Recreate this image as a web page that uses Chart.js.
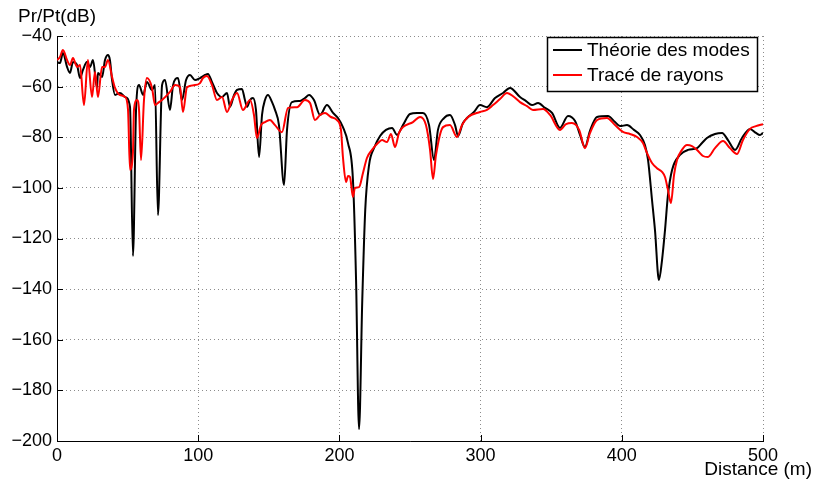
<!DOCTYPE html>
<html>
<head>
<meta charset="utf-8">
<script src="https://cdn.jsdelivr.net/npm/chart.js@4/dist/chart.umd.min.js"></script>
<style>
  html, body { margin: 0; padding: 0; background: #fff; }
  canvas { display: block; }
</style>
</head>
<body>
<canvas id="chart" width="819" height="485"></canvas>
<script>
// Théorie des modes (black)
const theoryX = [0, 2.1, 4.2, 7.1, 9.2, 11.3, 14.2, 16.3, 18.4, 21.2, 23.4, 25.5, 28.3, 29, 31.9, 34, 36.1, 37.5, 39,
    41.1, 44.6, 48.2, 51.7, 53.8, 56, 58.1, 61, 63.7, 67.3, 69.4, 71.5, 74.4, 76.5, 80, 82.2, 85.7, 88.5, 91.4, 94.2,
    97.7, 101.3, 104.8, 106.9, 109.8, 113.3, 116.9, 120.4, 122.5, 125.4, 127.5, 131, 133.1, 134.6, 136.7, 138.8, 140.9,
    143.1, 145.2, 147.3, 149.4, 152.3, 154.4, 157.2, 160.8, 162.9, 166.4, 172.1, 175.6, 178.5, 182, 186.3, 191.2, 195.5,
    199, 202.5, 206.1, 209.6, 211.8, 213.9, 216.2, 218.3, 221, 224.5, 228.8, 233, 237.3, 240.8, 245, 250, 255, 259.2,
    263.5, 267, 269.8, 274.1, 278.3, 281.9, 284, 287.5, 290.4, 295.3, 299.6, 304.5, 310.2, 315.9, 320.8, 327.9, 332.2,
    336.4, 340.7, 345.6, 350.6, 356.2, 361.9, 366.9, 370.4, 373.9, 377.5, 382.4, 390.2, 395.2, 398.7, 403.7, 408.6,
    412.9, 416.4, 418.6, 421.4, 423.5, 426.3, 428.5, 430.6, 432.7, 435.6, 441.2, 446.9, 453.3, 456.8, 460.3, 466, 471,
    475.2, 480.2, 485.1, 490.8, 495, 497.9, 500];
const theoryY = [-50.3, -50.7, -46.7, -52.2, -54.6, -50.3, -51.5, -56.6, -53.4, -50.3, -52.2, -49.5, -60.5, -54.6, -56.2,
    -49.5, -47.5, -49.5, -57.4, -63.3, -62.5, -64.1, -68, -126.9, -69, -59.4, -63.3, -58.2, -61.3, -59.4, -110.7, -59.4,
    -57.4, -69.2, -59.4, -56.6, -65.3, -57.4, -55.4, -57.4, -56.6, -55.4, -55, -58.2, -62.5, -64.1, -62.5, -68, -63.3,
    -61.3, -60.9, -65.3, -68, -65.3, -64.5, -69.2, -87.8, -71.2, -65.3, -63.3, -66.1, -69.2, -75.2, -98.9, -77.1, -66.1,
    -65.7, -64.5, -63.3, -65.3, -71.2, -67.3, -70.4, -72.4, -76, -82.3, -96.9, -136.4, -195.3, -144.3, -108.7, -91, -84.3,
    -79.5, -77.1, -76.3, -79.1, -75.2, -70.8, -70.4, -70.4, -75.2, -89, -77.1, -72.4, -71.2, -75.2, -79.5, -74.4, -72.4,
    -70, -67.3, -68.1, -64.5, -62.5, -60.5, -64.1, -65.7, -67.3, -66.5, -68.4, -70.4, -76.3, -71.6, -73.6, -79.1, -83.9,
    -77.4, -72, -71.6, -74, -75.6, -75.2, -77.1, -79.1, -83.1, -89, -104.8, -116.7, -136.4, -128.5, -116.7, -102.8, -92.9,
    -87, -85, -84.3, -82.3, -80.3, -78.7, -78.3, -81.1, -85, -80.3, -76.7, -78.3, -79.1, -78.3];

// Tracé de rayons (red)
const rayX = [0, 2.1, 4.2, 7.1, 9.2, 11.3, 14.2, 16.3, 19.1, 21.9, 24.8, 26.9, 29, 31.9, 34, 36.1, 39, 41.1, 44.6, 48.2,
    50.3, 51.7, 53.8, 54.5, 56.7, 58.1, 59.5, 61.6, 63.7, 67.3, 69.4, 72.2, 74.4, 80, 83.6, 87.1, 89.2, 92.1, 97.7, 101.3,
    103.4, 106.2, 109.8, 113.3, 116.9, 120.4, 123.9, 127.5, 131.7, 136.7, 139.5, 141.6, 144.5, 147.3, 150.8, 154.4,
    159.3, 163.6, 170, 175.6, 179.2, 182.7, 186.3, 189.8, 194, 198.3, 201.1, 202.5, 204.7, 206.1, 207.5, 209.6, 211,
    213.9, 216.7, 219.5, 223.1, 227.3, 230.2, 233.7, 236.5, 239.4, 242.2, 245, 252.1, 257.1, 261.3, 264.2, 266.3,
    268.4, 273.4, 278.3, 283.3, 286.8, 291.1, 299.6, 304.5, 308.8, 313.7, 318.7, 323.7, 327.9, 332.9, 337.1, 344.2,
    349.2, 356.2, 360.5, 364.7, 369.8, 373.9, 377.5, 382.4, 389.5, 395.2, 400.8, 405.8, 410.8, 415, 417.8, 421.4,
    424.9, 428.5, 430.6, 432.7, 434.8, 437, 439.1, 442.6, 446.2, 449.7, 453.3, 457.5, 461, 466, 471.7, 476.6, 481.6,
    485.8, 490.8, 495, 500];
const rayY = [-49.5, -48.3, -45.5, -49.5, -51.5, -48.7, -52.2, -51.5, -67.3, -49.5, -64.1, -54.2, -64.1, -52.2, -52.2,
    -49.5, -56.2, -60.5, -63.3, -64.1, -69.2, -92.9, -85.8, -69.2, -65.3, -69.2, -89, -65.3, -56.6, -60.5, -67.3, -66.1,
    -65.3, -62.1, -59.4, -60.2, -70, -60.2, -59.4, -58.6, -56.6, -55.8, -59.4, -65.3, -64.1, -70, -65.3, -62.5, -69.2,
    -65.3, -71.2, -80.3, -75.2, -74, -73.2, -75.2, -78, -68.4, -68.1, -65.3, -66.5, -73.2, -71.2, -70.4, -72, -73.2,
    -77.1, -87.8, -97.7, -95.3, -95.7, -103.6, -100, -99.7, -94.1, -88.2, -85, -82.3, -81.1, -81.9, -78.7, -83.9, -78.3,
    -76, -74, -72, -75.2, -85, -96.5, -87, -76, -75.2, -79.9, -75.2, -72, -70, -69.2, -67.3, -64.9, -62.5, -64.1, -66.1,
    -67.7, -69.2, -68.8, -71.2, -77.1, -74.8, -74.4, -77.1, -84.3, -78.3, -73.2, -72.4, -75.2, -77.9, -78.7, -79.9,
    -82.3, -86.2, -90.2, -92.2, -93.7, -95.7, -100.8, -106, -94.9, -89, -85, -83.1, -83.5, -85, -87.4, -87.8, -84.3,
    -81.5, -84.3, -86.6, -81.1, -76.7, -75.6, -74.8];

const xTicks = [0, 100, 200, 300, 400, 500];
const yTicks = [-200, -180, -160, -140, -120, -100, -80, -60, -40];

const FONT = '"Liberation Sans", Arial, Helvetica, sans-serif';

function toPoints(xs, ys) {
    return xs.map((x, i) => ({ x: x, y: ys[i] }));
}

function minusLabel(v) {
    return v < 0 ? '\u2212' + Math.abs(v) : String(v);
}

const decorPlugin = {
    id: 'decor',
    afterDraw(chart) {
        const ctx = chart.ctx;
        const area = chart.chartArea;
        const xs = chart.scales.x;
        const ys = chart.scales.y;
        ctx.save();

        // inward tick marks
        ctx.strokeStyle = '#000';
        ctx.lineWidth = 1;
        ctx.beginPath();
        xTicks.forEach(v => {
            const px = Math.round(xs.getPixelForValue(v)) + 0.5;
            ctx.moveTo(px, area.bottom);
            ctx.lineTo(px, area.bottom - 6);
        });
        yTicks.forEach(v => {
            const py = Math.round(ys.getPixelForValue(v)) + 0.5;
            ctx.moveTo(area.left, py);
            ctx.lineTo(area.left + 6, py);
        });
        ctx.stroke();

        // axis titles
        ctx.fillStyle = '#000';
        ctx.font = '19px ' + FONT;
        ctx.textBaseline = 'middle';
        ctx.textAlign = 'left';
        ctx.fillText('Pr/Pt(dB)', 18, 17);
        ctx.textAlign = 'right';
        ctx.fillText('Distance (m)', 812, 470);

        // legend
        const box = { x: 547.5, y: 37.5, w: 210, h: 54 };
        ctx.fillStyle = '#fff';
        ctx.fillRect(box.x, box.y, box.w, box.h);
        ctx.strokeStyle = '#000';
        ctx.lineWidth = 1.5;
        ctx.strokeRect(box.x, box.y, box.w, box.h);
        const rows = [chart.data.datasets[0], chart.data.datasets[1]];
        rows.forEach((ds, i) => {
            const cy = 50 + i * 25;
            ctx.strokeStyle = ds.borderColor;
            ctx.lineWidth = 2;
            ctx.beginPath();
            ctx.moveTo(553, cy);
            ctx.lineTo(582, cy);
            ctx.stroke();
            ctx.fillStyle = '#000';
            ctx.textAlign = 'left';
            ctx.fillText(ds.label, 587, cy + 1);
        });
        ctx.restore();
    }
};

new Chart(document.getElementById('chart').getContext('2d'), {
    type: 'line',
    data: {
        datasets: [{
            label: 'Théorie des modes',
            data: toPoints(theoryX, theoryY),
            borderColor: '#000000',
            borderWidth: 2,
            pointRadius: 0,
            cubicInterpolationMode: 'monotone',
            order: 1
        }, {
            label: 'Tracé de rayons',
            data: toPoints(rayX, rayY),
            borderColor: '#ff0000',
            borderWidth: 2,
            pointRadius: 0,
            cubicInterpolationMode: 'monotone',
            order: 0
        }]
    },
    options: {
        responsive: false,
        animation: false,
        devicePixelRatio: 1,
        layout: { padding: { left: 0, top: 36, right: 56, bottom: 0 } },
        plugins: {
            legend: { display: false },
            tooltip: { enabled: false }
        },
        scales: {
            x: {
                type: 'linear',
                min: 0,
                max: 500,
                afterFit: s => { s.height = 44; },
                afterBuildTicks: s => { s.ticks = xTicks.map(v => ({ value: v })); },
                ticks: { color: '#000', font: { family: FONT, size: 18 }, padding: 4, maxRotation: 0 },
                grid: { color: '#8c8c8c', lineWidth: 1, drawTicks: false },
                border: { display: true, color: '#000', width: 1, dash: [1, 3] }
            },
            y: {
                min: -200,
                max: -40,
                afterFit: s => { s.width = 57; },
                afterBuildTicks: s => { s.ticks = yTicks.map(v => ({ value: v })); },
                ticks: { color: '#000', font: { family: FONT, size: 18 }, padding: 5, callback: minusLabel },
                grid: { color: '#8c8c8c', lineWidth: 1, drawTicks: false },
                border: { display: true, color: '#000', width: 1, dash: [1, 3] }
            }
        }
    },
    plugins: [decorPlugin]
});
</script>
</body>
</html>
